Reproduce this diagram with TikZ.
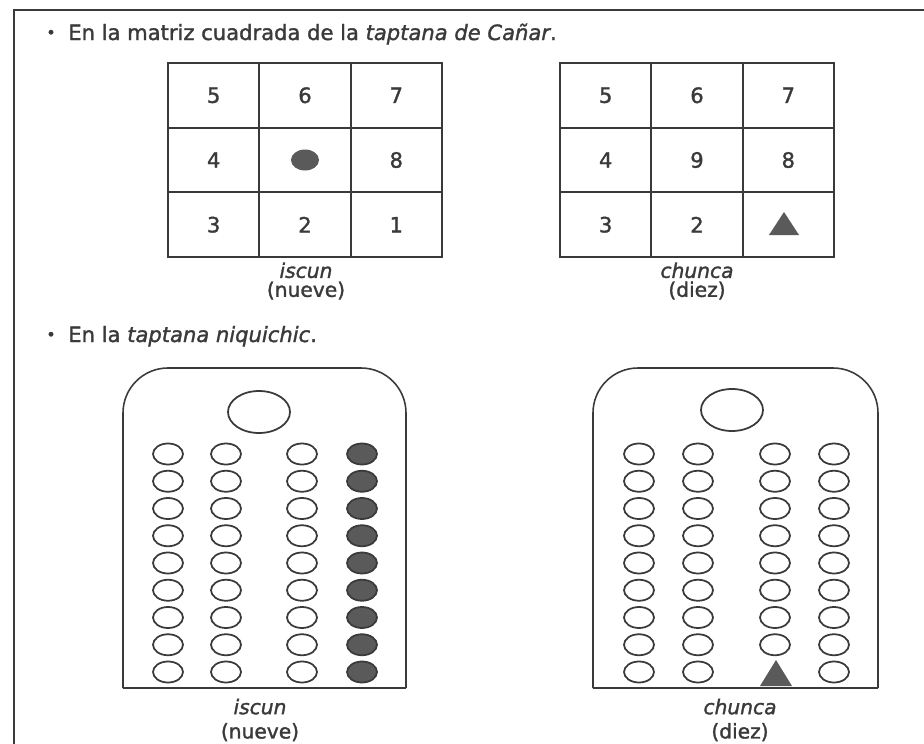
\documentclass[tikz,border=0pt]{standalone}
\usepackage{fontspec}
\setmainfont[FakeBold=1.5]{DejaVu Sans}
\definecolor{ink}{HTML}{3A3A3A}
\definecolor{bead}{HTML}{5A5A5A}
\begin{document}
\begin{tikzpicture}[x=0.02cm,y=-0.02cm,
        txt/.style={text=ink, font=\fontsize{12}{14}\selectfont, inner sep=0pt},
        lab/.style={text=ink, font=\fontsize{11.5}{10.8}\selectfont, inner sep=0pt, align=center},
        cell/.style={draw=ink, line width=1.1pt, minimum width=1.827cm, minimum height=1.293cm, inner sep=0pt},
        hole/.style={draw=ink, line width=1pt},
        board/.style={draw=ink, line width=0.9pt}]
        \useasboundingbox (0,0) rectangle (924,744);
        \draw[ink, line width=1.7pt] (14,744)--(14,10)--(924,10);

        \node[txt] (b1) at (51,34) {\small\textbullet};
        \node[txt, anchor=base west] (h1) at (68,40) {En la matriz cuadrada de la \textit{taptana de Cañar}.};

        \foreach \c in {0,1,2}
            \foreach \r in {0,1,2} {
                \node[cell] (a-\c-\r) at (213.7+91.3*\c,95.3+64.7*\r) {};
                \node[cell] (b-\c-\r) at (605.7+91.3*\c,95.3+64.7*\r) {};
            }
        \foreach \c/\r/\t in {0/0/5,1/0/6,2/0/7,0/1/4,2/1/8,0/2/3,1/2/2,2/2/1}
            \node[txt] (na\t) at (a-\c-\r) {\t};
        \foreach \c/\r/\t in {0/0/5,1/0/6,2/0/7,0/1/4,1/1/9,2/1/8,0/2/3,1/2/2}
            \node[txt] (nb\t) at (b-\c-\r) {\t};
        \fill[bead] (a-1-1) ellipse (14 and 10.5);
        \fill[bead] (769,235)--(799,235)--(784,212)--cycle;

        \node[lab] (la) at (306,281) {\textit{iscun}\\(nueve)};
        \node[lab] (lb) at (697,281) {\textit{chunca}\\(diez)};

        \node[txt] (b2) at (51,336) {\small\textbullet};
        \node[txt, anchor=base west] (h2) at (68,342) {En la \textit{taptana niquichic}.};

        \draw[board, rounded corners=0.9cm] (123,688)--(123,368)--(406,368)--(406,688);
        \draw[ink, line width=1.4pt] (123,688)--(406,688);
        \draw[hole] (259,412) ellipse (31 and 21);
        \foreach \x in {168,226,302}
            \foreach \k in {0,...,8}
                \draw[hole] (\x,454+27.25*\k) ellipse (15 and 10.5);
        \foreach \k in {0,...,8}
            \draw[hole, fill=bead] (362,454+27.25*\k) ellipse (15 and 10.5);

        \draw[board, rounded corners=0.9cm] (593,688)--(593,368)--(878,368)--(878,688);
        \draw[ink, line width=1.4pt] (593,688)--(878,688);
        \draw[hole] (732,410) ellipse (31 and 21);
        \foreach \x in {639,698,834}
            \foreach \k in {0,...,8}
                \draw[hole] (\x,454+27.25*\k) ellipse (15 and 10.5);
        \foreach \k in {0,...,7}
            \draw[hole] (775,454+27.25*\k) ellipse (15 and 10.5);
        \fill[bead] (760,686)--(792,686)--(776,660)--cycle;

        \node[lab] (lc) at (260,720) {\textit{iscun}\\[3pt](nueve)};
        \node[lab] (ld) at (740,720) {\textit{chunca}\\[3pt](diez)};
    \end{tikzpicture}
\end{document}
